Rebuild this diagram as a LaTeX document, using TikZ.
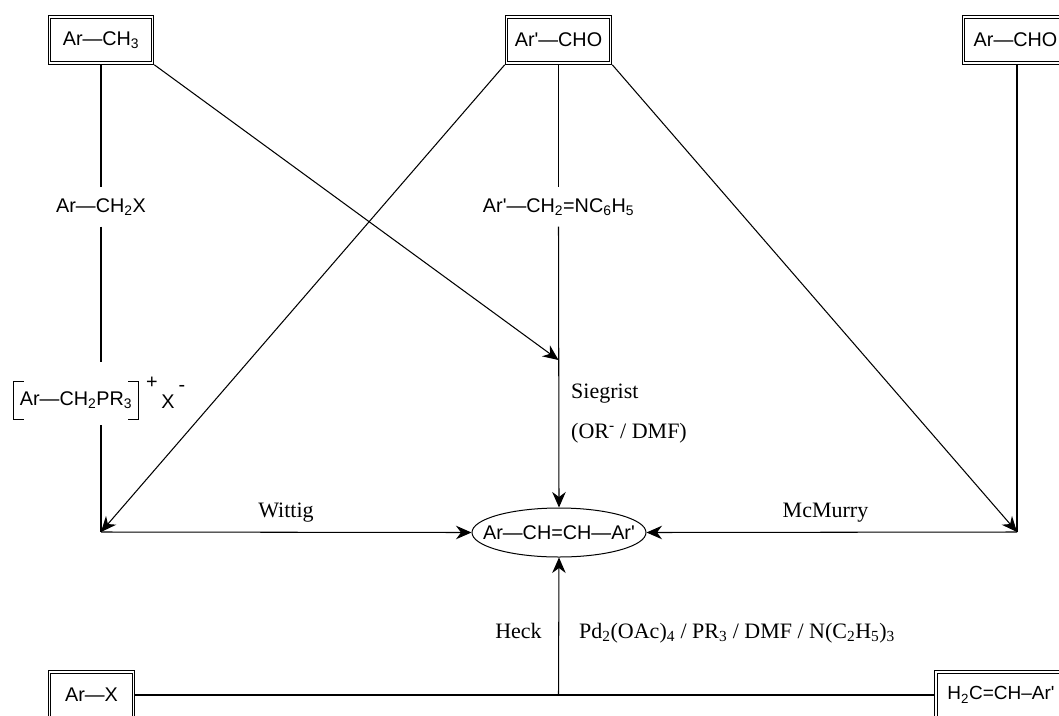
\documentclass[tikz,border=0pt]{standalone}
\usepackage{fontspec}
\usetikzlibrary{arrows.meta,shapes.geometric}
\setmainfont[Ligatures=TeXOff]{Liberation Sans}
\newfontfamily\serifchem{Liberation Serif}
\tikzset{
  sanslabel/.style={font=\fontsize{19.8}{22}\selectfont,inner sep=0pt},
  seriflabel/.style={font=\serifchem\fontsize{22}{24}\selectfont,inner sep=0pt,anchor=base west},
  reagentbox/.style={sanslabel,draw=black,double=white,double distance=1.6pt,line width=1.1pt,
     minimum height=46pt,outer sep=1.8pt},
  gaplabel/.style={sanslabel,minimum height=39pt},
  product/.style={sanslabel,draw=black,ellipse,line width=1pt,minimum width=174pt,minimum height=49pt,outer sep=0.5pt},
  conn/.style={line width=1.05pt,draw=black},
  arr/.style={conn,-{Stealth[length=15.5pt,width=13.5pt,inset=5pt]}}
}
\begin{document}
\begin{tikzpicture}[x=1pt,y=-1pt]
\useasboundingbox (0,0) rectangle (1059,715);
\clip (0,0) rectangle (1059,715);
% reagent boxes
\node[reagentbox,minimum width=103pt] (arch3) at (101,40) {Ar—CH\textsubscript{3}};
\node[reagentbox,minimum width=104pt] (archoa) at (558.5,40) {Ar'—CHO};
\node[reagentbox,minimum width=104pt] (archob) at (1015.5,40) {Ar—CHO};
\node[reagentbox,minimum width=84pt] (arx) at (91.5,695) {Ar—X};
\node[reagentbox,minimum width=130pt] (alkene) at (1001,695) {\fontsize{19}{22}\selectfont H\textsubscript{2}C=CH–Ar'};
% intermediates
\node[gaplabel] (halide) at (101,207) {Ar—CH\textsubscript{2}X};
\node[gaplabel] (imine) at (558.5,207) {Ar'—CH\textsubscript{2}=NC\textsubscript{6}H\textsubscript{5}};
\node[sanslabel] (salt) at (76,400) {Ar—CH\textsubscript{2}PR\textsubscript{3}};
\node[sanslabel] (plus) at (152,383) {+};
\node[sanslabel] (xion) at (168,402) {X};
\node[sanslabel] (minus) at (182,388) {-};
\node[product] (prod) at (559,532.5) {\makebox[0pt]{Ar—CH=CH—Ar'}};
% brackets
\draw[line width=.9pt] (23.5,381) -- (13,381) -- (13,419.5) -- (23.5,419.5);
\draw[line width=.9pt] (128,381) -- (138.5,381) -- (138.5,419.5) -- (128,419.5);
% junctions
\coordinate (wcorner) at (101,532);
\coordinate (mcorner) at (1017,532);
\coordinate (siegjoin) at (558.5,360);
\coordinate (heckjoin) at (558.5,695);
\coordinate (saltlow) at (101,425);
\coordinate (salthigh) at (101,362);
% connectors
\draw[conn] (arch3.south) -- (halide.north);
\draw[conn] (halide.south) -- (salthigh);
\draw[conn] (saltlow) -- (wcorner);
\draw[arr] (wcorner) -- (prod.west);
\draw[arr] (arch3.south east) -- (siegjoin);
\draw[arr] (archoa.south west) -- (wcorner);
\draw[arr] (archoa.south east) -- (mcorner);
\draw[conn] (archoa.south) -- (imine.north);
\draw[arr] (imine.south) -- (prod.north);
\draw[conn] (archob.south -| mcorner) -- (mcorner);
\draw[arr] (mcorner) -- (prod.east);
\draw[conn] (arx.east) -- (alkene.west);
\draw[arr] (heckjoin) -- (prod.south);
% labels
\node[seriflabel,anchor=base] (wittig) at (286,517) {Wittig};
\node[seriflabel,anchor=base] (mcmurry) at (825.5,517) {McMurry};
\node[seriflabel] (sieg) at (571,398) {Siegrist};
\node[seriflabel] (orx) at (571,438) {(OR\textsuperscript{-} / DMF)};
\node[seriflabel,anchor=base] (heck) at (518.5,638) {Heck};
\node[seriflabel] (pd) at (579,638) {Pd\textsubscript{2}(OAc)\textsubscript{4} / PR\textsubscript{3} / DMF / N(C\textsubscript{2}H\textsubscript{5})\textsubscript{3}};
\end{tikzpicture}
\end{document}
